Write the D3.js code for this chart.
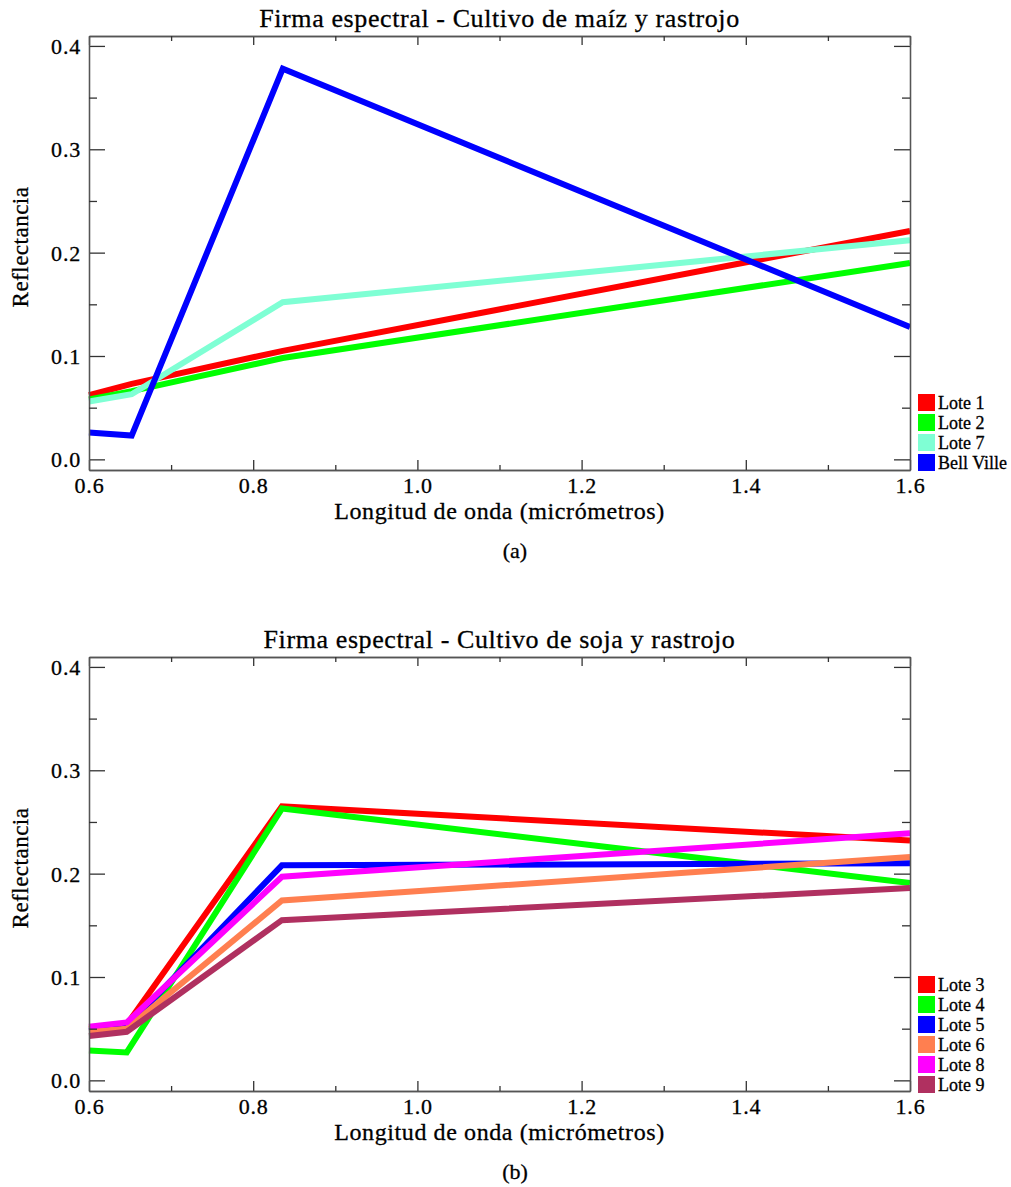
<!DOCTYPE html>
<html>
<head>
<meta charset="utf-8">
<script src="https://cdn.jsdelivr.net/npm/d3@7"></script>
<style>
  html, body { margin: 0; padding: 0; background: #fff; }
  svg { display: block; }
  text { font-family: "Liberation Serif", "Times New Roman", serif; fill: #000; stroke: #000; stroke-width: 0.3px; }
</style>
</head>
<body>
<svg id="fig" width="1011" height="1187"></svg>
<script>
// Wavelengths (µm) sampled in each panel
const bandsMaiz = [0.6, 0.652, 0.836, 1.6];
const bandsSoja = [0.6, 0.646, 0.835, 1.6];

// Panel (a): maize crop and stubble
const lote1 = [0.062, 0.073, 0.105, 0.221];
const lote2 = [0.058, 0.066, 0.098, 0.190];
const lote7 = [0.056, 0.063, 0.152, 0.212];
const bellVille = [0.026, 0.023, 0.378, 0.128];

// Panel (b): soybean crop and stubble
const lote3 = [0.050, 0.054, 0.265, 0.232];
const lote4 = [0.029, 0.027, 0.263, 0.191];
const lote5 = [0.048, 0.052, 0.208, 0.210];
const lote6 = [0.047, 0.050, 0.174, 0.216];
const lote8 = [0.052, 0.056, 0.197, 0.239];
const lote9 = [0.043, 0.047, 0.155, 0.186];

// Axis ticks
const xMajor = [0.6, 0.8, 1.0, 1.2, 1.4, 1.6];
const xMinor = [0.7, 0.9, 1.1, 1.3, 1.5];
const yMajor = [0.0, 0.1, 0.2, 0.3, 0.4];
const yMinor = [0.05, 0.15, 0.25, 0.35];

const xLabel = "Longitud de onda (micrómetros)";
const yLabel = "Reflectancia";

const panels = [
  {
    title: "Firma espectral - Cultivo de maíz y rastrojo",
    tag: "(a)",
    top: 36,
    bands: bandsMaiz,
    series: [
      { name: "Lote 1", values: lote1, color: "#ff0000" },
      { name: "Lote 2", values: lote2, color: "#00ff00" },
      { name: "Lote 7", values: lote7, color: "#7fffd4" },
      { name: "Bell Ville", values: bellVille, color: "#0000ff" }
    ],
    legendTop: 394
  },
  {
    title: "Firma espectral - Cultivo de soja y rastrojo",
    tag: "(b)",
    top: 657,
    bands: bandsSoja,
    series: [
      { name: "Lote 3", values: lote3, color: "#ff0000" },
      { name: "Lote 4", values: lote4, color: "#00ff00" },
      { name: "Lote 5", values: lote5, color: "#0000ff" },
      { name: "Lote 6", values: lote6, color: "#ff7f50" },
      { name: "Lote 8", values: lote8, color: "#ff00ff" },
      { name: "Lote 9", values: lote9, color: "#b03060" }
    ],
    legendTop: 976
  }
];

const svg = d3.select("#fig");
const left = 89, right = 910, plotH = 434;
const fmt = d3.format(".1f");

panels.forEach(p => {
  const top = p.top, bottom = top + plotH;
  const x = d3.scaleLinear().domain([0.6, 1.6]).range([left, right]);
  const y = d3.scaleLinear().domain([-0.0103, 0.4096]).range([bottom, top]);

  const g = svg.append("g");

  // data lines
  const line = d3.line().x(d => x(d[0])).y(d => y(d[1]));
  p.series.forEach(s => {
    g.append("path")
      .datum(p.bands.map((b, i) => [b, s.values[i]]))
      .attr("d", line)
      .attr("fill", "none")
      .attr("stroke", s.color)
      .attr("stroke-width", 6)
      .attr("stroke-linejoin", "miter");
  });

  // axes: ticks point inward on all four sides
  const styleAxis = sel => {
    sel.selectAll(".domain").attr("stroke", "#555").attr("stroke-width", 1.3);
    sel.selectAll(".tick line").attr("stroke", "#333").attr("stroke-width", 1.3);
  };
  const ax = (gen, tx, ty) => g.append("g").attr("transform", `translate(${tx},${ty})`).call(gen).call(styleAxis);

  // bottom
  const bAx = ax(d3.axisBottom(x).tickValues(xMajor).tickFormat(fmt).tickSizeInner(-10).tickSizeOuter(0).tickPadding(7), 0, bottom);
  ax(d3.axisBottom(x).tickValues(xMinor).tickFormat("").tickSizeInner(-5).tickSizeOuter(0), 0, bottom);
  // top
  ax(d3.axisTop(x).tickValues(xMajor).tickFormat("").tickSizeInner(-9).tickSizeOuter(0), 0, top);
  ax(d3.axisTop(x).tickValues(xMinor).tickFormat("").tickSizeInner(-5).tickSizeOuter(0), 0, top);
  // left
  const lAx = ax(d3.axisLeft(y).tickValues(yMajor).tickFormat(fmt).tickSizeInner(-16).tickSizeOuter(0).tickPadding(8), left, 0);
  ax(d3.axisLeft(y).tickValues(yMinor).tickFormat("").tickSizeInner(-8).tickSizeOuter(0), left, 0);
  // right
  ax(d3.axisRight(y).tickValues(yMajor).tickFormat("").tickSizeInner(-16).tickSizeOuter(0), right, 0);
  ax(d3.axisRight(y).tickValues(yMinor).tickFormat("").tickSizeInner(-8).tickSizeOuter(0), right, 0);

  [bAx, lAx].forEach(a => a.selectAll(".tick text")
    .style("font-family", '"Liberation Serif", serif')
    .style("font-size", "22px")
    .style("letter-spacing", "0.8px")
    .attr("fill", "#000"));
  lAx.selectAll(".tick text").attr("dy", "0.34em");

  // title
  g.append("text")
    .attr("x", (left + right) / 2).attr("y", top - 9)
    .attr("text-anchor", "middle")
    .style("font-size", "26px")
    .style("letter-spacing", "0.6px")
    .text(p.title);

  // axis titles
  g.append("text")
    .attr("x", (left + right) / 2).attr("y", bottom + 49)
    .attr("text-anchor", "middle")
    .style("font-size", "24px")
    .style("letter-spacing", "0.6px")
    .text(xLabel);
  g.append("text")
    .attr("transform", `translate(28,${(top + bottom) / 2 - 6}) rotate(-90)`)
    .attr("text-anchor", "middle")
    .style("font-size", "23px")
    .style("letter-spacing", "0.5px")
    .text(yLabel);

  // panel tag
  g.append("text")
    .attr("x", 515).attr("y", bottom + 88)
    .attr("text-anchor", "middle")
    .style("font-size", "22px")
    .text(p.tag);

  // legend
  const lg = g.append("g").attr("transform", `translate(918,${p.legendTop})`);
  p.series.forEach((s, i) => {
    lg.append("rect")
      .attr("x", 0).attr("y", i * 20)
      .attr("width", 17).attr("height", 17)
      .attr("fill", s.color);
    lg.append("text")
      .attr("x", 20).attr("y", i * 20 + 15)
      .style("font-size", "18px")
      .text(s.name);
  });
});
</script>
</body>
</html>
